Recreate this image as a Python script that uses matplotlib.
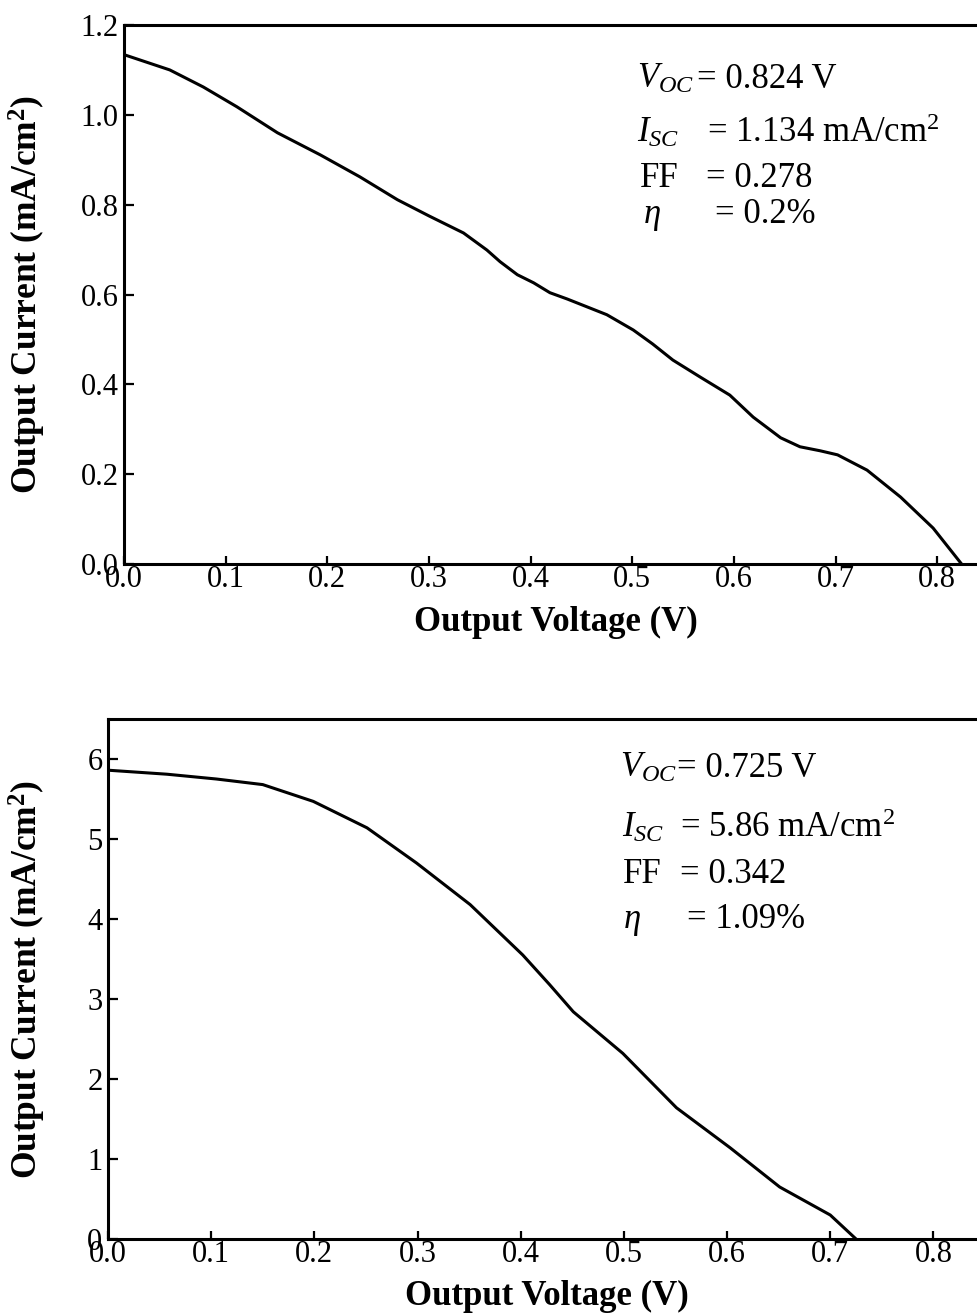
import matplotlib
matplotlib.use('Agg')
import matplotlib.pyplot as plt

# Curvas I-V (tensão em V, corrente em mA/cm2)
v_topo = [0.0, 0.045, 0.078, 0.111, 0.151, 0.193, 0.232, 0.269, 0.300, 0.334, 0.357,
          0.370, 0.387, 0.403, 0.419, 0.436, 0.475, 0.501, 0.520, 0.540, 0.567, 0.596,
          0.619, 0.646, 0.665, 0.685, 0.702, 0.731, 0.764, 0.796, 0.824]
i_topo = [1.134, 1.100, 1.062, 1.018, 0.960, 0.911, 0.862, 0.811, 0.775, 0.737, 0.699,
          0.673, 0.644, 0.626, 0.604, 0.590, 0.555, 0.521, 0.490, 0.454, 0.416, 0.376,
          0.327, 0.281, 0.261, 0.252, 0.243, 0.209, 0.149, 0.080, 0.0]

v_base = [0.0, 0.057, 0.105, 0.150, 0.199, 0.251, 0.299, 0.351, 0.402, 0.428,
          0.451, 0.499, 0.551, 0.603, 0.651, 0.700, 0.725]
i_base = [5.86, 5.81, 5.75, 5.68, 5.47, 5.14, 4.70, 4.18, 3.55, 3.18,
          2.84, 2.32, 1.64, 1.14, 0.65, 0.30, 0.0]

x_ticks = [0.0, 0.1, 0.2, 0.3, 0.4, 0.5, 0.6, 0.7, 0.8]
y_ticks_topo = [0.0, 0.2, 0.4, 0.6, 0.8, 1.0, 1.2]
y_ticks_base = [0, 1, 2, 3, 4, 5, 6]

rotulos = [r'$V_{OC}$', r'$I_{SC}$', 'FF', r'$\eta$']
valores_topo = ['= 0.824 V', '= 1.134 mA/cm$^{2}$', '= 0.278', '= 0.2%']
valores_base = ['= 0.725 V', '= 5.86 mA/cm$^{2}$', '= 0.342', '= 1.09%']

plt.rcParams['font.family'] = ['Liberation Serif', 'DejaVu Serif']
plt.rcParams['mathtext.fontset'] = 'custom'
plt.rcParams['mathtext.rm'] = 'Liberation Serif'
plt.rcParams['mathtext.it'] = 'Liberation Serif:italic'
plt.rcParams['mathtext.bf'] = 'Liberation Serif:bold'

fig = plt.figure(figsize=(9.77, 13.16), dpi=100)
ax1 = fig.add_axes([124/977, 1 - 564/1316, 864/977, 539/1316])
ax2 = fig.add_axes([108/977, 1 - 1239/1316, 877/977, 520/1316])


def formatar(ax, yticks, ylim, fmt, ylab_x, xlab_y):
    ax.set_xlim(0, 0.85)
    ax.set_ylim(*ylim)
    ax.set_xticks(x_ticks)
    ax.set_xticklabels([f'{t:.1f}' for t in x_ticks])
    ax.set_yticks(yticks)
    ax.set_yticklabels([fmt.format(t) for t in yticks])
    for s in ax.spines.values():
        s.set_linewidth(2.2)
    ax.tick_params(axis='x', direction='in', length=6, width=1.6, labelsize=22, pad=1)
    ax.tick_params(axis='y', direction='in', length=7, width=1.6, labelsize=22, pad=4)
    ax.set_xlabel('Output Voltage (V)', fontsize=25, fontweight='bold')
    ax.set_ylabel(r'Output Current (mA/cm$^{\mathbf{2}}$)', fontsize=25.5, fontweight='bold')
    ax.yaxis.set_label_coords(ylab_x, 0.5)
    ax.xaxis.set_label_coords(0.5, xlab_y)


formatar(ax1, y_ticks_topo, (0, 1.2), '{:.1f}', -0.088, -0.078)
formatar(ax2, y_ticks_base, (0, 6.5), '{:d}', -0.068, -0.078)

ax1.plot(v_topo, i_topo, color='black', linewidth=2.2)
ax2.plot(v_base, i_base, color='black', linewidth=2.2)

# Texto dos parâmetros
pos_topo = [(0.594, 0.663, 0.883), (0.594, 0.675, 0.783), (0.597, 0.674, 0.699), (0.601, 0.684, 0.633)]
pos_base = [(0.584, 0.649, 0.888), (0.586, 0.652, 0.773), (0.587, 0.652, 0.685), (0.587, 0.660, 0.598)]
for ax, valores, pos in [(ax1, valores_topo, pos_topo), (ax2, valores_base, pos_base)]:
    for r, v, (xr, xv, y) in zip(rotulos, valores, pos):
        ax.text(xr, y, r, transform=ax.transAxes, fontsize=25, va='baseline', ha='left')
        ax.text(xv, y, v, transform=ax.transAxes, fontsize=25, va='baseline', ha='left')

fig.savefig('out.png', dpi=100)
